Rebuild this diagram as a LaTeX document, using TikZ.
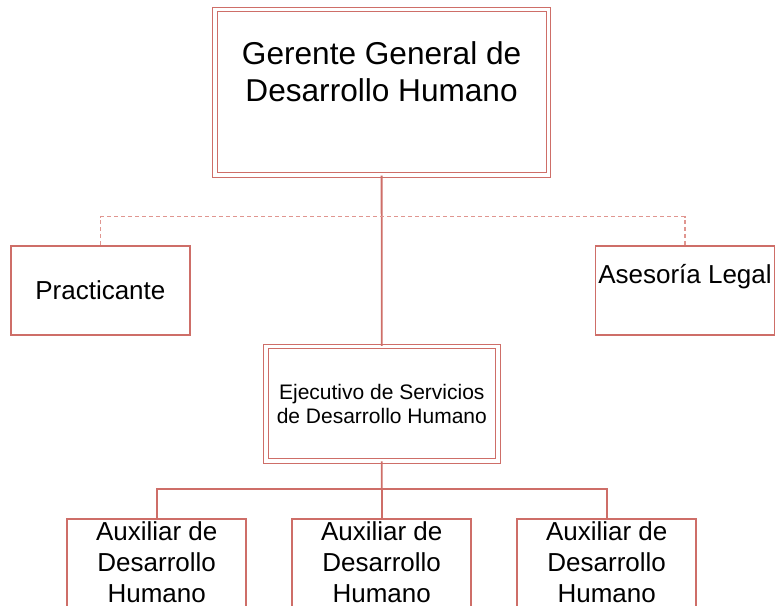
\documentclass[tikz,border=0pt]{standalone}
\usepackage{fontspec}
\setmainfont{Liberation Sans}
\definecolor{boxred}{RGB}{206,110,104}
\definecolor{dashpink}{RGB}{224,150,144}
\tikzset{
  unitbox/.style={draw=boxred, line width=1.8pt, fill=white, inner sep=0pt, minimum width=179pt},
  doublebox/.style={draw=boxred, double=white, double distance=3.4pt, line width=1.15pt, inner sep=0pt},
  boxtext/.style={inner sep=0pt, align=center},
  orgline/.style={draw=boxred, line width=1.8pt},
  staffline/.style={draw=dashpink, line width=1.2pt, dash pattern=on 4pt off 3pt},
}
\begin{document}
\begin{tikzpicture}[x=1pt,y=-1pt]
                \clip (0,0) rectangle (776,605);
                % head of the unit
                \node[doublebox, minimum width=333.6pt, minimum height=165.5pt] (gerente) at (381.6,92.25) {};
                \node[boxtext, anchor=north, font=\fontsize{31.6}{37}\selectfont] (gerente-txt) at (381.6,41.5) {Gerente General de\\Desarrollo Humano};
                % staff positions
                \node[unitbox, minimum height=89.6pt, font=\fontsize{26}{31}\selectfont] (practicante) at (100.35,290.5) {Practicante};
                \node[unitbox, minimum height=89.6pt] (asesoria) at (685,290.5) {};
                \node[boxtext, anchor=north, font=\fontsize{26}{31}\selectfont] (asesoria-txt) at (685,264) {Asesoría Legal};
                % executive
                \node[doublebox, minimum width=232pt, minimum height=114.3pt, align=center, font=\fontsize{21}{24.4}\selectfont] (ejecutivo) at (381.8,403.7) {Ejecutivo de Servicios\\de Desarrollo Humano};
                % assistants
                \node[unitbox, minimum height=120pt, anchor=north] (aux1) at (156.7,518) {};
                \node[unitbox, minimum height=120pt, anchor=north] (aux2) at (381.7,518) {};
                \node[unitbox, minimum height=120pt, anchor=north] (aux3) at (606.7,518) {};
                \node[boxtext, anchor=north, font=\fontsize{26}{31}\selectfont] (aux1-txt) at (156.7,521.5) {Auxiliar de\\Desarrollo\\Humano};
                \node[boxtext, anchor=north, font=\fontsize{26}{31}\selectfont] (aux2-txt) at (381.7,521.5) {Auxiliar de\\Desarrollo\\Humano};
                \node[boxtext, anchor=north, font=\fontsize{26}{31}\selectfont] (aux3-txt) at (606.7,521.5) {Auxiliar de\\Desarrollo\\Humano};
                % connectors
                \coordinate (staffbus) at (381.6,216.7);
                \coordinate (auxbus) at (381.7,489);
                \draw[orgline] (gerente.south) -- (ejecutivo.north);
                \draw[staffline] (practicante.north) |- (staffbus) -| (asesoria.north);
                \draw[orgline] (ejecutivo.south) -- (auxbus);
                \draw[orgline] (aux1.north) |- (auxbus) -| (aux3.north);
                \draw[orgline] (auxbus) -- (aux2.north);
              \end{tikzpicture}
\end{document}
